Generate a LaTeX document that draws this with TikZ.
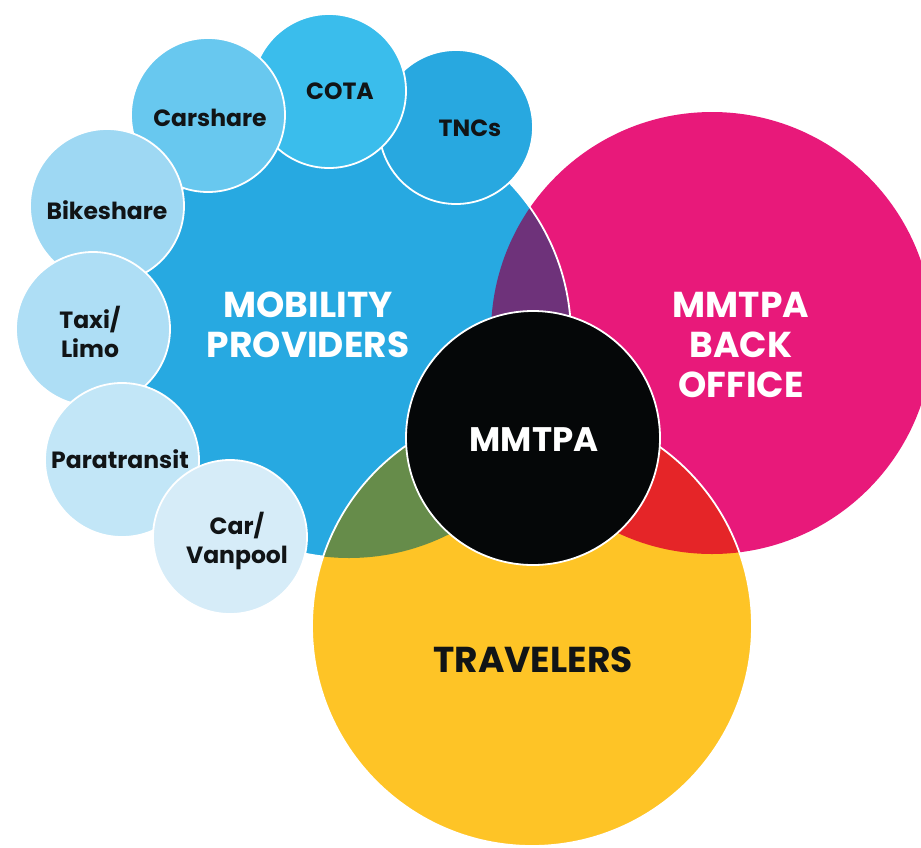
\documentclass[tikz,border=0pt]{standalone}
\usepackage{fontspec}
\setmainfont{Poppins}
\usetikzlibrary{positioning}
\definecolor{provblue}{HTML}{27A9E1}
\definecolor{backpink}{HTML}{E8197A}
\definecolor{travyellow}{HTML}{FEC426}
\definecolor{lenspurple}{HTML}{6E327A}
\definecolor{lensgreen}{HTML}{668C4A}
\definecolor{lensred}{HTML}{E52528}
\definecolor{hubblack}{HTML}{050708}
\definecolor{labelblack}{HTML}{111416}
\definecolor{tncblue}{HTML}{28A8E0}
\definecolor{cotablue}{HTML}{3ABDEC}
\definecolor{carblue}{HTML}{68C8EF}
\definecolor{bikeblue}{HTML}{9ED8F3}
\definecolor{taxiblue}{HTML}{AEDEF5}
\definecolor{parablue}{HTML}{C2E6F7}
\definecolor{poolblue}{HTML}{D6ECF8}

\begin{document}
\begin{tikzpicture}[
  x=1pt, y=-1pt,
  rim/.style={draw=white, line width=1.8pt},
  lbl/.style={font=\bfseries\fontsize{23.5}{29}\selectfont, text=labelblack, align=center, inner sep=0pt},
  biglbl/.style={font=\bfseries\fontsize{36}{40}\selectfont, text=white, align=center, inner sep=0pt},
]
  \useasboundingbox (0,0) rectangle (921,847);
  \clip (0,0) rectangle (921,847);

  % Centres of the big circles
  \coordinate (prov) at (349,336);
  \coordinate (back) at (712,333);
  \coordinate (trav) at (532,626);
  \coordinate (hub) at (533,438);

  % Back office and providers
  \fill[backpink] (back) circle (221);
  \fill[provblue] (prov) circle (222);
  \begin{scope}
    \clip (prov) circle (222);
    \fill[lenspurple] (back) circle (221);
  \end{scope}
  \draw[rim] (prov) circle (222);

  % Travelers
  \fill[travyellow] (trav) circle (220);
  \begin{scope}
    \clip (trav) circle (220);
    \fill[lensgreen] (prov) circle (222);
    \fill[lensred] (back) circle (221);
  \end{scope}
  \draw[rim] (trav) circle (220);

  % MMTPA hub
  \fill[hubblack, rim] (hub) circle (127);

  % Provider bubbles
  \foreach \nm/\cx/\cy/\col/\tx/\ty/\txt in {
      tncs/456/127/tncblue/470/128/{TNCs},
      cota/329/91/cotablue/340/91/{COTA},
      carshare/208/115/carblue/210/118/{Carshare},
      bikeshare/107/206/bikeblue/107/210/{Bikeshare},
      taxi/93/329/taxiblue/90/332/{Taxi/\\Limo},
      para/122/460/parablue/120/459/{Paratransit},
      pool/230/537/poolblue/237/541/{Car/\\Vanpool}}{
    \fill[\col, rim] (\cx,\cy) circle (77);
    \node[lbl] (\nm) at (\tx,\ty) {\txt};
  }

  % Labels
  \node[biglbl] (provlbl) at (308,325) {MOBILITY\\PROVIDERS};
  \node[biglbl] (backlbl) at (741,345) {MMTPA\\BACK\\OFFICE};
  \node[biglbl, font=\bfseries\fontsize{34}{40}\selectfont] (hublbl) at (534,440) {MMTPA};
  \node[biglbl, text=labelblack] (travlbl) at (533,660) {TRAVELERS};
\end{tikzpicture}
\end{document}
